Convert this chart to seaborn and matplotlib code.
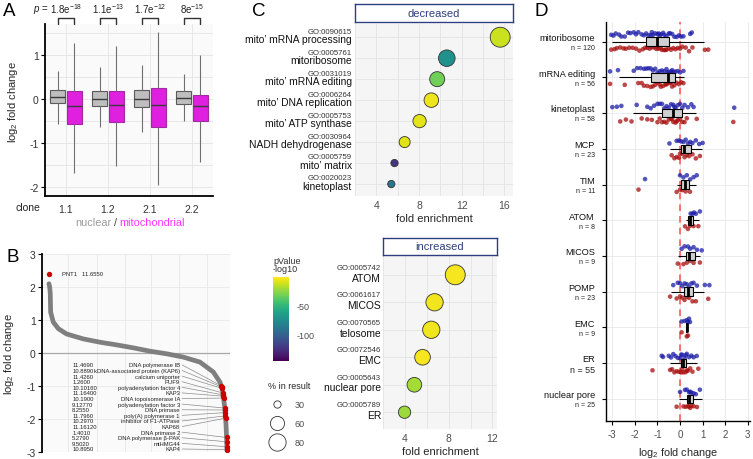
import numpy as np
import pandas as pd
import matplotlib
matplotlib.use("Agg")
import matplotlib.pyplot as plt
import matplotlib.transforms as mtransforms
from matplotlib.lines import Line2D
import seaborn as sns

# ======================= DATA =======================
# Panel A: box summaries [lower whisker, Q1, median, Q3, upper whisker]
clones = ["1.1", "1.2", "2.1", "2.2"]
nuclear_boxes = [
    [-0.57, -0.10, 0.04, 0.20, 0.64],
    [-0.64, -0.17, 0.00, 0.19, 0.72],
    [-0.76, -0.19, 0.00, 0.20, 0.76],
    [-0.49, -0.11, 0.03, 0.17, 0.57],
]
mito_boxes = [
    [-1.67, -0.57, -0.15, 0.19, 1.27],
    [-1.52, -0.52, -0.14, 0.17, 1.19],
    [-1.95, -0.63, -0.13, 0.24, 1.52],
    [-1.42, -0.50, -0.17, 0.10, 1.00],
]
p_labels = [r"1.8e$^{-18}$", r"1.1e$^{-13}$", r"1.7e$^{-12}$", r"8e$^{-15}$"]

# Panel B: ranked log2 fold change curve (rank as % of genes)
rank_pct = [3.7, 4.1, 4.4, 4.6, 6.0, 8.7, 13.1, 22.0, 30.9, 39.7, 48.6, 57.4,
            66.3, 75.2, 84.0, 91.1, 94.7, 95.6, 96.4, 97.3, 97.9, 98.2, 98.4]
lfc_sorted = [2.1, 2.0, 1.8, 1.24, 0.94, 0.74, 0.58, 0.43, 0.33, 0.25, 0.16, 0.06,
              -0.02, -0.12, -0.27, -0.57, -0.88, -1.03, -1.28, -1.69, -2.19, -2.6, -2.95]
pnt1_rank = [3.9]
pnt1_lfc = [2.4]
hit_names = ["DNA polymerase IB", "kDNA-associated protein (KAP6)", "calcium uniporter",
             "PUF9", "polyadenylation factor 4", "KAP3", "DNA topoisomerase IA",
             "polyadenylation factor 3", "DNA primase", "poly(A) polymerase 1",
             "inhibitor of F1-ATPase", "KAP68", "DNA primase 2", "DNA polymerase β-PAK",
             "mtHMG44", "KAP4"]
hit_scores = ["11.4690", "10.8890", "11.4260", "1.2600", "10.10160", "11.16400", "10.1900",
              "9.12770", "8.2550", "11.7960", "10.2970", "11.16120", "1.4010", "5.2790",
              "9.5020", "10.8950"]
hit_rank = [95.3, 95.6, 95.7, 96.15, 96.35, 96.45, 96.6, 97.25, 97.35, 97.45, 97.6,
            97.65, 98.15, 98.25, 98.33, 98.38]
hit_lfc = [-0.98, -1.02, -1.06, -1.2, -1.26, -1.3, -1.36, -1.66, -1.72, -1.8, -1.9,
           -1.97, -2.55, -2.68, -2.83, -2.92]

# Panel C: GO enrichment
dec_terms = ["mito’ mRNA processing", "mitoribosome", "mito’ mRNA editing",
             "mito’ DNA replication", "mito’ ATP synthase", "NADH dehydrogenase",
             "mito’ matrix", "kinetoplast"]
dec_go = ["GO:0090615", "GO:0005761", "GO:0031019", "GO:0006264", "GO:0005753",
          "GO:0030964", "GO:0005759", "GO:0020023"]
dec_fold = [15.6, 10.6, 9.7, 9.15, 8.05, 6.65, 5.7, 5.4]
dec_logp = [-12, -73, -32, -4, -6, -7, -125, -91]
dec_pct = [100, 75, 65, 62, 55, 44, 30, 26]

inc_terms = ["ATOM", "MICOS", "telosome", "EMC", "nuclear pore", "ER"]
inc_go = ["GO:0005742", "GO:0061617", "GO:0070565", "GO:0072546", "GO:0005643", "GO:0005789"]
inc_fold = [8.6, 6.7, 6.4, 5.6, 4.85, 3.95]
inc_logp = [-2, -3, -3, -2, -20, -22]
inc_pct = [100, 80, 80, 69, 63, 50]
size_legend_vals = [30, 60, 80]

# Panel D: complexes
d_cats = ["mitoribosome", "mRNA editing", "kinetoplast", "MCP", "TIM", "ATOM",
          "MICOS", "POMP", "EMC", "ER", "nuclear pore"]
d_n = [120, 56, 58, 23, 11, 8, 9, 23, 9, 55, 25]
d_box = [
    [-3.02, -1.52, -1.03, -0.47, 1.06],
    [-2.70, -1.30, -0.55, -0.22, 0.18],
    [-2.10, -0.81, -0.29, 0.07, 0.69],
    [-0.44, 0.04, 0.18, 0.47, 0.99],
    [-0.12, 0.03, 0.22, 0.41, 0.69],
    [0.27, 0.37, 0.45, 0.56, 0.85],
    [-0.07, 0.25, 0.41, 0.66, 0.88],
    [-0.41, 0.18, 0.37, 0.59, 1.06],
    [0.25, 0.28, 0.30, 0.33, 0.37],
    [-0.44, 0.04, 0.15, 0.25, 0.74],
    [-0.03, 0.29, 0.41, 0.56, 0.96],
]
mitoribosome_blue = [-3.05, -2.95, -2.85, -2.7, -2.6, -2.45, -2.3, -2.2, -2.05, -1.95, -1.85,
                     -1.7, -1.6, -1.5, -1.4, -1.3, -1.25, -1.2, -1.1, -1.0, -0.95, -0.9, -0.85,
                     -0.75, -0.7, -0.6, -0.5, -0.45, -0.35, -0.25, -0.15, -0.05, 0.05, 0.15,
                     0.45, 0.52]
mitoribosome_red = [-3.05, -2.9, -2.8, -2.65, -2.5, -2.4, -2.25, -2.1, -1.95, -1.8, -1.65,
                    -1.55, -1.45, -1.35, -1.25, -1.15, -1.05, -1.0, -0.95, -0.85, -0.8, -0.7,
                    -0.65, -0.6, -0.5, -0.4, -0.3, -0.2, -0.1, 0.0, 0.1, 0.25, 0.4, 0.55,
                    1.1, 1.25]
mrna_editing_blue = [-3.1, -2.75, -2.05, -1.9, -1.75, -1.6, -1.5, -1.4, -1.3, -1.2, -1.1,
                     -1.0, -0.9, -0.8, -0.7, -0.6, -0.55, -0.5, -0.4, -0.35, -0.3, -0.2,
                     -0.1, 0.0, 0.15]
mrna_editing_red = [-3.1, -2.45, -1.85, -1.7, -1.6, -1.45, -1.3, -1.2, -1.1, -1.0, -0.9,
                    -0.85, -0.75, -0.65, -0.6, -0.55, -0.45, -0.4, -0.35, -0.25, -0.15,
                    -0.05, 0.05, 0.15]
kinetoplast_blue = [-3.0, -2.8, -2.6, -1.92, -1.45, -1.3, -1.15, -1.0, -0.9, -0.8, -0.7,
                    -0.6, -0.5, -0.4, -0.3, -0.25, -0.2, -0.1, 0.0, 0.1, 0.2, 0.35, 0.5,
                    0.6, 2.4]
kinetoplast_red = [-2.65, -2.4, -2.15, -1.7, -1.45, -1.25, -1.0, -0.9, -0.8, -0.7, -0.6,
                   -0.5, -0.4, -0.35, -0.3, -0.2, -0.15, -0.1, 0.0, 0.1, 0.2, 0.3, 0.74, 2.36]
mcp_blue = [-0.47, -0.15, -0.05, 0.05, 0.15, 0.25, 0.35, 0.45, 0.55, 0.7, 0.85, 1.0]
mcp_red = [-0.37, -0.25, -0.15, -0.05, 0.0, 0.1, 0.2, 0.3, 0.4, 0.55, 0.7, 0.88]
tim_blue = [-1.55, 0.0, 0.15, 0.3, 0.45, 0.6, 0.74]
tim_red = [-1.84, -0.15, 0.0, 0.1, 0.25, 0.44]
atom_blue = [0.47, 0.55, 0.62, 0.7, 0.88]
atom_red = [0.22, 0.35, 0.45, 0.6, 0.81]
micos_blue = [0.07, 0.2, 0.35, 0.45, 0.6, 0.75, 0.96]
micos_red = [-0.1, 0.15, 0.3, 0.45, 0.6, 0.88]
pomp_blue = [-0.3, -0.1, 0.0, 0.1, 0.2, 0.3, 0.4, 0.5, 0.6, 0.75, 1.1, 1.3]
pomp_red = [-0.44, -0.15, 0.0, 0.1, 0.2, 0.3, 0.4, 0.55, 0.7, 1.25]
emc_blue = [0.07, 0.2, 0.3, 0.35, 0.4, 0.44]
emc_red = [0.07, 0.3, 0.35]
er_blue = [-0.81, -0.75, -0.5, -0.4, -0.3, -0.2, -0.1, 0.0, 0.05, 0.1, 0.2, 0.25, 0.3,
           0.4, 0.5, 0.6, 0.74]
er_red = [-1.22, -0.44, -0.35, -0.25, -0.15, -0.05, 0.05, 0.1, 0.15, 0.25, 0.3, 0.35,
          0.45, 0.55, 0.81]
npore_blue = [0.0, 0.22, 0.3, 0.4, 0.45, 0.5, 0.6, 0.7, 0.88]
npore_red = [-0.15, 0.15, 0.25, 0.35, 0.4, 0.45, 0.5, 0.6, 0.75]

d_blue = [mitoribosome_blue, mrna_editing_blue, kinetoplast_blue, mcp_blue, tim_blue,
          atom_blue, micos_blue, pomp_blue, emc_blue, er_blue, npore_blue]
d_red = [mitoribosome_red, mrna_editing_red, kinetoplast_red, mcp_red, tim_red,
         atom_red, micos_red, pomp_red, emc_red, er_red, npore_red]

# ======================= STYLE =======================
sns.set_theme(style="white")
plt.rcParams["font.family"] = ["Liberation Sans", "DejaVu Sans"]
plt.rcParams.update({
    "mathtext.fontset": "custom",
    "mathtext.rm": "Liberation Sans",
    "mathtext.it": "Liberation Sans:italic",
    "mathtext.bf": "Liberation Sans:bold",
    "axes.unicode_minus": False,
})
np.random.seed(3)

W, H = 753, 460
fig = plt.figure(figsize=(W / 100, H / 100), dpi=100)


def rect(x0, y0, x1, y1):
    return [x0 / W, 1 - y1 / H, (x1 - x0) / W, (y1 - y0) / H]


def letter(x, y, s):
    fig.text(x / W, 1 - y / H, s, fontsize=13.5, ha="left", va="center", color="black")


GRID = "#E4E4E4"
TICKC = "#4D4D4D"

# ======================= PANEL A =======================
recA = []
for c, nb, mb in zip(clones, nuclear_boxes, mito_boxes):
    recA += [(c, "nuclear", v) for v in nb]
    recA += [(c, "mitochondrial", v) for v in mb]
dfA = pd.DataFrame(recA, columns=["clone", "compartment", "lfc"])

axA = fig.add_axes(rect(45, 25, 213, 197))
axA.set_facecolor("#FAFAFA")
sns.boxplot(data=dfA, x="clone", y="lfc", hue="compartment", order=clones,
            hue_order=["nuclear", "mitochondrial"],
            palette={"nuclear": "#BEBEBE", "mitochondrial": "#FF00FF"},
            whis=(0, 100), showfliers=False, showcaps=False, width=0.8, gap=0.12,
            linewidth=0.8, linecolor="#707070", medianprops={"color": "#3A3A3A", "linewidth": 1.0},
            legend=False, ax=axA)
for p in axA.patches:
    fc = p.get_facecolor()
    p.set_edgecolor("#A12AA1" if fc[1] < 0.3 else "#5A5A5A")
axA.set_xlim(-0.5, 3.5)
axA.set_ylim(-2.2, 1.7)
axA.set_yticks([-2, -1, 0, 1])
axA.set_yticks([-1.5, -0.5, 0.5, 1.5], minor=True)
axA.grid(True, which="both", color=GRID, lw=0.6)
axA.set_axisbelow(True)
for s in ["top", "right"]:
    axA.spines[s].set_visible(False)
for s in ["left", "bottom"]:
    axA.spines[s].set_color("black")
    axA.spines[s].set_linewidth(1.3)
axA.tick_params(axis="y", which="major", length=3, width=0.8, color="black",
                labelsize=7.5, labelcolor="#333333", pad=1.5, left=True)
axA.tick_params(axis="y", which="minor", length=0)
axA.tick_params(axis="x", length=0, labelsize=7.5, labelcolor="#333333", pad=6)
axA.set_xlabel("")
axA.set_ylabel(r"log$_2$ fold change", fontsize=8, labelpad=3)
axA.yaxis.set_label_coords(-0.15, 0.55)

tA = mtransforms.blended_transform_factory(axA.transData, axA.transAxes)
for i, lab in enumerate(p_labels):
    x0, x1 = i - 0.2, i + 0.2
    axA.plot([x0, x0, x1, x1], [1.0, 1.033, 1.033, 1.0], transform=tA,
             color="#333333", lw=1.0, clip_on=False)
    axA.text(i, 1.095, lab, transform=tA, ha="center", va="center", fontsize=7,
             color="#222222")
fig.text(41 / W, 1 - 9.5 / H, r"$p$ =", ha="center", va="center", fontsize=7, color="#222222")
fig.text(28 / W, 1 - 208 / H, "clone", ha="center", va="center", fontsize=7.5, color="#222222")
ylab = 1 - 223 / H
fig.text(111 / W, ylab, "nuclear", ha="right", va="center", fontsize=7.8, color="#9A9A9A")
fig.text(115 / W, ylab, "/", ha="center", va="center", fontsize=7.8, color="#444444")
fig.text(119 / W, ylab, "mitochondrial", ha="left", va="center", fontsize=7.8, color="#FF33FF")
letter(3, 11.5, "A")

# ======================= PANEL B =======================
axB = fig.add_axes(rect(42, 255, 230, 453.3))
axB.set_facecolor("#FAFAFA")
sns.lineplot(x=rank_pct, y=lfc_sorted, color="#7F7F7F", lw=3.4, sort=False,
             solid_capstyle="round", ax=axB, zorder=2)
axB.axhline(0, color="#A8A8A8", lw=0.9, zorder=1)
sns.scatterplot(x=hit_rank, y=hit_lfc, color="#CC0000", s=15, linewidth=0, ax=axB, zorder=4)
sns.scatterplot(x=pnt1_rank, y=pnt1_lfc, color="#CC0000", s=15, linewidth=0, ax=axB, zorder=4)
axB.text(10.6, pnt1_lfc[0], "PNT1   11.6550", fontsize=4.2, va="center", ha="left", color="#222222")
label_y = np.linspace(-0.355, -2.9, len(hit_names))
for nm, sc, ly, r, v in zip(hit_names, hit_scores, label_y, hit_rank, hit_lfc):
    axB.text(16, ly, sc, fontsize=4.2, ha="left", va="center", color="#222222")
    axB.text(73.4, ly, nm, fontsize=4.2, ha="right", va="center", color="#222222")
    axB.plot([74.5, r - 0.3], [ly, v], color="#8C8C8C", lw=0.5, zorder=3)
axB.set_xlim(0, 100)
axB.set_ylim(-3.0, 3.0)
axB.set_yticks([-3, -2, -1, 0, 1, 2, 3])
axB.set_xticks([14, 29, 44, 58, 73, 88])
axB.set_xticklabels([])
axB.grid(True, color="#E9E9E9", lw=0.6)
axB.set_axisbelow(True)
for s in ["top", "right", "bottom"]:
    axB.spines[s].set_visible(False)
axB.spines["left"].set_color("black")
axB.spines["left"].set_linewidth(1.3)
axB.tick_params(axis="y", length=3, width=0.8, color="black", labelsize=7.5,
                labelcolor="#333333", pad=1.5, left=True)
axB.tick_params(axis="x", length=0)
axB.set_ylabel(r"log$_2$ fold change", fontsize=8, labelpad=3)
axB.yaxis.set_label_coords(-0.14, 0.5)
letter(6, 258, "B")

# ======================= PANEL C =======================
S30, S100 = 27.6, 206.0


def size_of(v):
    return S30 + (v - 30) * (S100 - S30) / 70.0


def go_panel(box, strip_box, terms, gos, fold, logp, pct, xlim, ticks, pad, offs, label):
    ax = fig.add_axes(rect(*box))
    ax.set_facecolor("#F5F5F5")
    df = pd.DataFrame({"row": np.arange(len(terms)), "fold": fold, "logp": logp, "pct": pct})
    sns.scatterplot(data=df, x="fold", y="row", hue="logp", size="pct", palette="viridis",
                    hue_norm=(-147, 0), sizes=(S30, S100), size_norm=(30, 100),
                    edgecolor="#333333", linewidth=0.6, legend=False, ax=ax, zorder=3)
    n = len(terms)
    ax.set_xlim(*xlim)
    ax.set_ylim(n - 1 + pad[1], -pad[0])
    ax.set_yticks(np.arange(n))
    ax.set_yticklabels([])
    ax.set_xticks(ticks)
    ax.set_xticks([t + 2 for t in ticks[:-1]] + [ticks[0] - 2], minor=True)
    ax.grid(True, which="both", color="#E6E6E6", lw=0.7)
    ax.set_axisbelow(True)
    for s in ax.spines.values():
        s.set_visible(False)
    ax.tick_params(axis="both", which="both", length=0)
    ax.tick_params(axis="x", labelsize=7.5, labelcolor=TICKC, pad=3)
    ax.set_xlabel("fold enrichment", fontsize=8, labelpad=2)
    ax.set_ylabel("")
    tr = mtransforms.blended_transform_factory(ax.transAxes, ax.transData)
    for i, (t, g) in enumerate(zip(terms, gos)):
        ax.text(-0.02, i + offs[0], g, transform=tr, ha="right", va="center", fontsize=5.6,
                color="#333333")
        ax.text(-0.02, i + offs[1], t, transform=tr, ha="right", va="center", fontsize=7.4,
                color="#111111")
    sa = fig.add_axes(rect(*strip_box))
    sa.set_xticks([])
    sa.set_yticks([])
    sa.set_facecolor("white")
    for s in sa.spines.values():
        s.set_visible(True)
        s.set_color("#2E3F7F")
        s.set_linewidth(1.0)
    sa.text(0.5, 0.5, label, ha="center", va="center", fontsize=8, color="#2E3F7F",
            transform=sa.transAxes)
    return ax


axC1 = go_panel((355, 25, 513, 197), (355, 5, 513, 23), dec_terms, dec_go, dec_fold,
                dec_logp, dec_pct, (2.35, 16.8), [4, 8, 12, 16], (0.63, 0.57),
                (-0.29, 0.09), "decreased")
axC2 = go_panel((383.3, 256, 496.7, 430), (383.3, 239, 496.7, 255.7), inc_terms, inc_go,
                inc_fold, inc_logp, inc_pct, (2.2, 12.4), [4, 8, 12], (0.72, 0.61),
                (-0.27, 0.1), "increased")
letter(252, 11.5, "C")

# colorbar
cax = fig.add_axes(rect(273.3, 278.3, 289.3, 361.7))
sm = matplotlib.cm.ScalarMappable(norm=matplotlib.colors.Normalize(-147, 0), cmap="viridis")
cb = fig.colorbar(sm, cax=cax, ticks=[-100, -50])
cb.outline.set_visible(False)
cax.tick_params(axis="y", left=True, right=True, labelleft=False, labelright=True,
                length=3, width=0.8, color="white", direction="in", labelsize=6.5,
                labelcolor=TICKC, pad=5)
fig.text(273 / W, 1 - 265.5 / H, "pValue\n-log10", ha="left", va="center", fontsize=6.5,
         color="#333333", linespacing=1.0)

handles = [Line2D([], [], marker="o", ls="", markerfacecolor="white",
                  markeredgecolor="#333333", markeredgewidth=0.6,
                  markersize=np.sqrt(size_of(v))) for v in size_legend_vals]
fig.legend(handles, [str(v) for v in size_legend_vals], title="% in result",
           loc="upper left", bbox_to_anchor=(268 / W, 1 - 382 / H), frameon=False,
           fontsize=6.5, title_fontsize=6.5, labelspacing=1.1, handletextpad=0.9,
           borderpad=0, borderaxespad=0, alignment="left", labelcolor=TICKC)

# ======================= PANEL D =======================
recD = []
for c, b, r in zip(d_cats, d_blue, d_red):
    recD += [(c, "blue", v) for v in b]
    recD += [(c, "red", v) for v in r]
dfD = pd.DataFrame(recD, columns=["complex", "clone", "lfc"])
recDb = []
for c, bx in zip(d_cats, d_box):
    recDb += [(c, v) for v in bx]
dfDb = pd.DataFrame(recDb, columns=["complex", "lfc"])

axD = fig.add_axes(rect(606, 22.7, 750, 421.7))
axD.set_facecolor("white")
axD.axvline(0, color="#FF5A5A", ls=(0, (4, 3)), lw=1.2, zorder=1.5)
sns.stripplot(data=dfD, x="lfc", y="complex", hue="clone", order=d_cats,
              hue_order=["blue", "red"], palette={"blue": "#1C1CA8", "red": "#A80E0E"},
              dodge=True, jitter=0.14, size=3.3, alpha=0.75, linewidth=0, legend=False,
              ax=axD, zorder=2)
sns.boxplot(data=dfDb, x="lfc", y="complex", order=d_cats, whis=(0, 100),
            showfliers=False, showcaps=False, width=0.24, color="#D0D0D0",
            linecolor="black", linewidth=0.8, medianprops={"linewidth": 2.0},
            ax=axD)
for p in axD.patches:
    p.set_facecolor("#D0D0D0")
axD.set_xlim(-3.28, 3.1)
axD.set_ylim(len(d_cats) - 1 + 0.61, -0.56)
axD.set_xticks([-3, -2, -1, 0, 1, 2, 3])
axD.set_xticklabels(["-3", "-2", "-1", "0", "1", "2", "3"])
axD.set_yticklabels([])
axD.grid(True, color="#EBEBEB", lw=0.7)
axD.set_axisbelow(True)
for s in ["top", "right"]:
    axD.spines[s].set_visible(False)
for s in ["left", "bottom"]:
    axD.spines[s].set_color("black")
    axD.spines[s].set_linewidth(1.0)
axD.tick_params(axis="y", length=3, width=0.8, color="black", left=True)
axD.tick_params(axis="x", length=3, width=0.8, color="black", bottom=True,
                labelsize=7, labelcolor=TICKC, pad=3)
axD.set_xlabel(r"log$_2$ fold change", fontsize=7.8, labelpad=4)
axD.set_ylabel("")
trD = mtransforms.blended_transform_factory(axD.transAxes, axD.transData)
for i, (c, n) in enumerate(zip(d_cats, d_n)):
    big = c == "ER"
    axD.text(-0.076, i - 0.12, c, transform=trD, ha="right", va="center", fontsize=6.6,
             color="#111111")
    axD.text(-0.076, i + (0.18 if big else 0.16), f"n = {n}", transform=trD, ha="right",
             va="center", fontsize=6.4 if big else 5.0, color="#222222")
letter(534, 11.5, "D")

fig.savefig("out.png", dpi=100)
